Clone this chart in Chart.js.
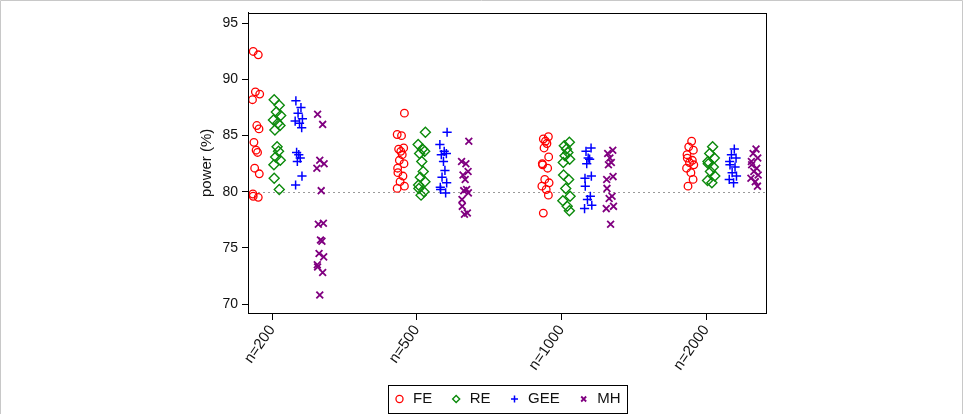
<!DOCTYPE html>
<html>
<head>
<meta charset="utf-8">
<script src="https://cdn.jsdelivr.net/npm/chart.js@4.4.1/dist/chart.umd.min.js"></script>
<style>
  html, body { margin: 0; padding: 0; background: #ffffff; }
  #wrap { width: 963px; height: 414px; position: relative; }
</style>
</head>
<body>
<div id="wrap"><canvas id="c" width="963" height="414"></canvas></div>
<script>
// ---- data ----
const categories = ['n=200', 'n=500', 'n=1000', 'n=2000'];
const methods = ['FE', 'RE', 'GEE', 'MH'];
const yTicks = [70, 75, 80, 85, 90, 95];
const referenceLine = 80;

const feValues = [
  [92.5, 92.2, 88.9, 88.7, 88.2, 85.9, 85.6, 84.4, 83.7, 83.5, 82.1, 81.6, 79.8, 79.6, 79.5],
  [87.0, 85.1, 85.0, 83.9, 83.8, 83.6, 83.3, 82.8, 82.5, 82.1, 81.7, 81.4, 80.9, 80.5, 80.3],
  [84.9, 84.7, 84.5, 84.3, 83.9, 83.1, 82.5, 82.4, 82.1, 81.1, 80.8, 80.5, 80.2, 79.7, 78.1],
  [84.5, 84.0, 83.7, 83.3, 83.0, 82.8, 82.6, 82.4, 82.1, 81.7, 81.1, 80.5]
];
const reValues = [
  [88.2, 87.7, 87.1, 86.8, 86.4, 86.1, 85.9, 85.5, 84.0, 83.6, 83.1, 82.8, 82.4, 81.2, 80.2],
  [85.3, 84.2, 83.8, 83.6, 83.4, 82.7, 81.8, 81.3, 80.9, 80.6, 80.3, 80.0, 79.7],
  [84.4, 84.1, 83.8, 83.5, 83.2, 82.9, 82.6, 81.5, 81.1, 80.3, 79.6, 79.2, 78.7, 78.3],
  [84.0, 83.4, 83.0, 82.7, 82.5, 82.2, 81.8, 81.4, 81.0, 80.8]
];
const geeValues = [
  [88.1, 87.5, 87.0, 86.5, 86.3, 86.1, 85.7, 83.5, 83.3, 83.0, 82.7, 81.4, 80.6],
  [85.3, 84.2, 83.6, 83.4, 83.3, 82.7, 81.9, 81.3, 80.8, 80.4, 80.2, 79.9],
  [83.9, 83.6, 83.0, 82.9, 82.5, 81.4, 81.2, 80.5, 79.6, 79.3, 78.8, 78.5],
  [83.8, 83.3, 83.0, 82.7, 82.4, 82.2, 81.7, 81.4, 81.1, 80.8]
];
const mhValues = [
  [86.9, 86.0, 82.8, 82.5, 82.1, 80.1, 77.2, 77.1, 75.7, 75.6, 74.5, 74.2, 73.5, 73.3, 72.8, 70.8],
  [84.5, 82.7, 82.5, 81.8, 81.5, 81.1, 80.2, 80.1, 79.9, 79.3, 78.7, 78.1, 78.0],
  [83.7, 83.4, 83.0, 82.6, 82.4, 81.35, 81.1, 80.3, 79.6, 79.4, 78.7, 78.5, 77.1],
  [83.8, 83.4, 83.0, 82.7, 82.4, 82.1, 81.8, 81.5, 81.2, 80.9, 80.5]
];

// ---- presentation ----
const FONT = "'Liberation Sans', Arial, Helvetica, sans-serif";
const groupOffset = { FE: -0.11, RE: 0.035, GEE: 0.185, MH: 0.335 };
const jitterPattern = [-0.02, 0.015, -0.005, 0.025, -0.025, 0.005, 0.02, -0.015, 0.0, 0.01, -0.01, 0.022, -0.022];
const styles = {
  FE:  { color: '#ff0000', pointStyle: 'circle',   radius: 3.8, width: 1.3 },
  RE:  { color: '#0b8a0b', pointStyle: 'rectRot',  radius: 5.0, width: 1.4 },
  GEE: { color: '#0000ff', pointStyle: 'cross',    radius: 4.6, width: 1.5 },
  MH:  { color: '#800080', pointStyle: 'crossRot', radius: 4.8, width: 1.8 }
};
const valuesBy = { FE: feValues, RE: reValues, GEE: geeValues, MH: mhValues };

function buildPoints(method) {
  const pts = [];
  valuesBy[method].forEach((list, ci) => {
    list.forEach((v, j) => {
      pts.push({ x: ci + groupOffset[method] + jitterPattern[(j + ci * 3) % jitterPattern.length], y: v });
    });
  });
  return pts;
}

const datasets = methods.map(m => ({
  label: m,
  data: buildPoints(m),
  pointStyle: styles[m].pointStyle,
  pointRadius: styles[m].radius,
  pointHoverRadius: styles[m].radius,
  pointBorderWidth: styles[m].width,
  borderWidth: styles[m].width,
  borderColor: styles[m].color,
  pointBorderColor: styles[m].color,
  backgroundColor: 'rgba(0,0,0,0)',
  pointBackgroundColor: 'rgba(0,0,0,0)'
}));

const framePlugin = {
  id: 'frame',
  beforeDatasetsDraw(chart) {
    const { ctx, chartArea: a, scales: { y } } = chart;
    const py = Math.round(y.getPixelForValue(referenceLine)) + 0.5;
    ctx.save();
    ctx.strokeStyle = '#9a9a9a';
    ctx.lineWidth = 1;
    ctx.setLineDash([2, 3]);
    ctx.beginPath();
    ctx.moveTo(a.left, py);
    ctx.lineTo(a.right, py);
    ctx.stroke();
    ctx.restore();
  },
  afterDraw(chart) {
    const { ctx, chartArea: a } = chart;
    ctx.save();
    ctx.strokeStyle = '#000';
    ctx.lineWidth = 1;
    ctx.strokeRect(Math.round(a.left) + 0.5, Math.round(a.top) + 0.5,
                   Math.round(a.right - a.left), Math.round(a.bottom - a.top));
    // outer figure frame
    ctx.strokeStyle = '#c8c8c8';
    ctx.beginPath();
    ctx.moveTo(0.5, 414);
    ctx.lineTo(0.5, 0.5);
    ctx.lineTo(962.5, 0.5);
    ctx.lineTo(962.5, 414);
    ctx.stroke();
    // legend box
    const hb = chart.legend && chart.legend.legendHitBoxes;
    if (hb && hb.length) {
      let l = Infinity, r = -Infinity, t = Infinity, b = -Infinity;
      hb.forEach(h => {
        l = Math.min(l, h.left); r = Math.max(r, h.left + h.width);
        t = Math.min(t, h.top); b = Math.max(b, h.top + h.height);
      });
      ctx.strokeStyle = '#000';
      ctx.strokeRect(Math.round(l - 5) + 0.5, Math.round(t - 7) + 0.5,
                     Math.round(r - l + 12), Math.round(b - t + 13));
    }
    ctx.restore();
  }
};

new Chart(document.getElementById('c'), {
  type: 'scatter',
  data: { datasets },
  plugins: [framePlugin],
  options: {
    responsive: false,
    animation: false,
    events: [],
    layout: { padding: { left: 195, right: 197, top: 12.7, bottom: -2.5 } },
    scales: {
      x: {
        type: 'linear',
        min: -0.166,
        max: 3.414,
        afterBuildTicks: s => { s.ticks = categories.map((c, i) => ({ value: i })); },
        afterFit: s => { s.height = 60.5; },
        grid: { drawOnChartArea: false, tickLength: 7, color: '#000', tickWidth: 1 },
        border: { color: '#000', width: 1 },
        ticks: {
          autoSkip: false,
          minRotation: 55,
          maxRotation: 55,
          padding: 2,
          color: '#111',
          font: { family: FONT, size: 15 },
          callback: v => categories[v]
        }
      },
      y: {
        min: 69.2,
        max: 95.95,
        afterBuildTicks: s => { s.ticks = yTicks.map(v => ({ value: v })); },
        afterFit: s => { s.width = 53; },
        grid: { drawOnChartArea: false, tickLength: 6, color: '#000', tickWidth: 1 },
        border: { color: '#000', width: 1 },
        ticks: {
          padding: 4,
          color: '#111',
          font: { family: FONT, size: 14 },
          callback: v => String(v)
        },
        title: {
          display: true,
          text: 'power (%)',
          color: '#111',
          font: { family: FONT, size: 15 },
          padding: { top: 3, bottom: 3 }
        }
      }
    },
    plugins: {
      legend: {
        position: 'bottom',
        fullSize: false,
        labels: {
          usePointStyle: true,
          boxWidth: 12,
          boxHeight: 5,
          padding: 18,
          color: '#111',
          font: { family: FONT, size: 15 }
        }
      },
      tooltip: { enabled: false }
    }
  }
});
</script>
</body>
</html>
